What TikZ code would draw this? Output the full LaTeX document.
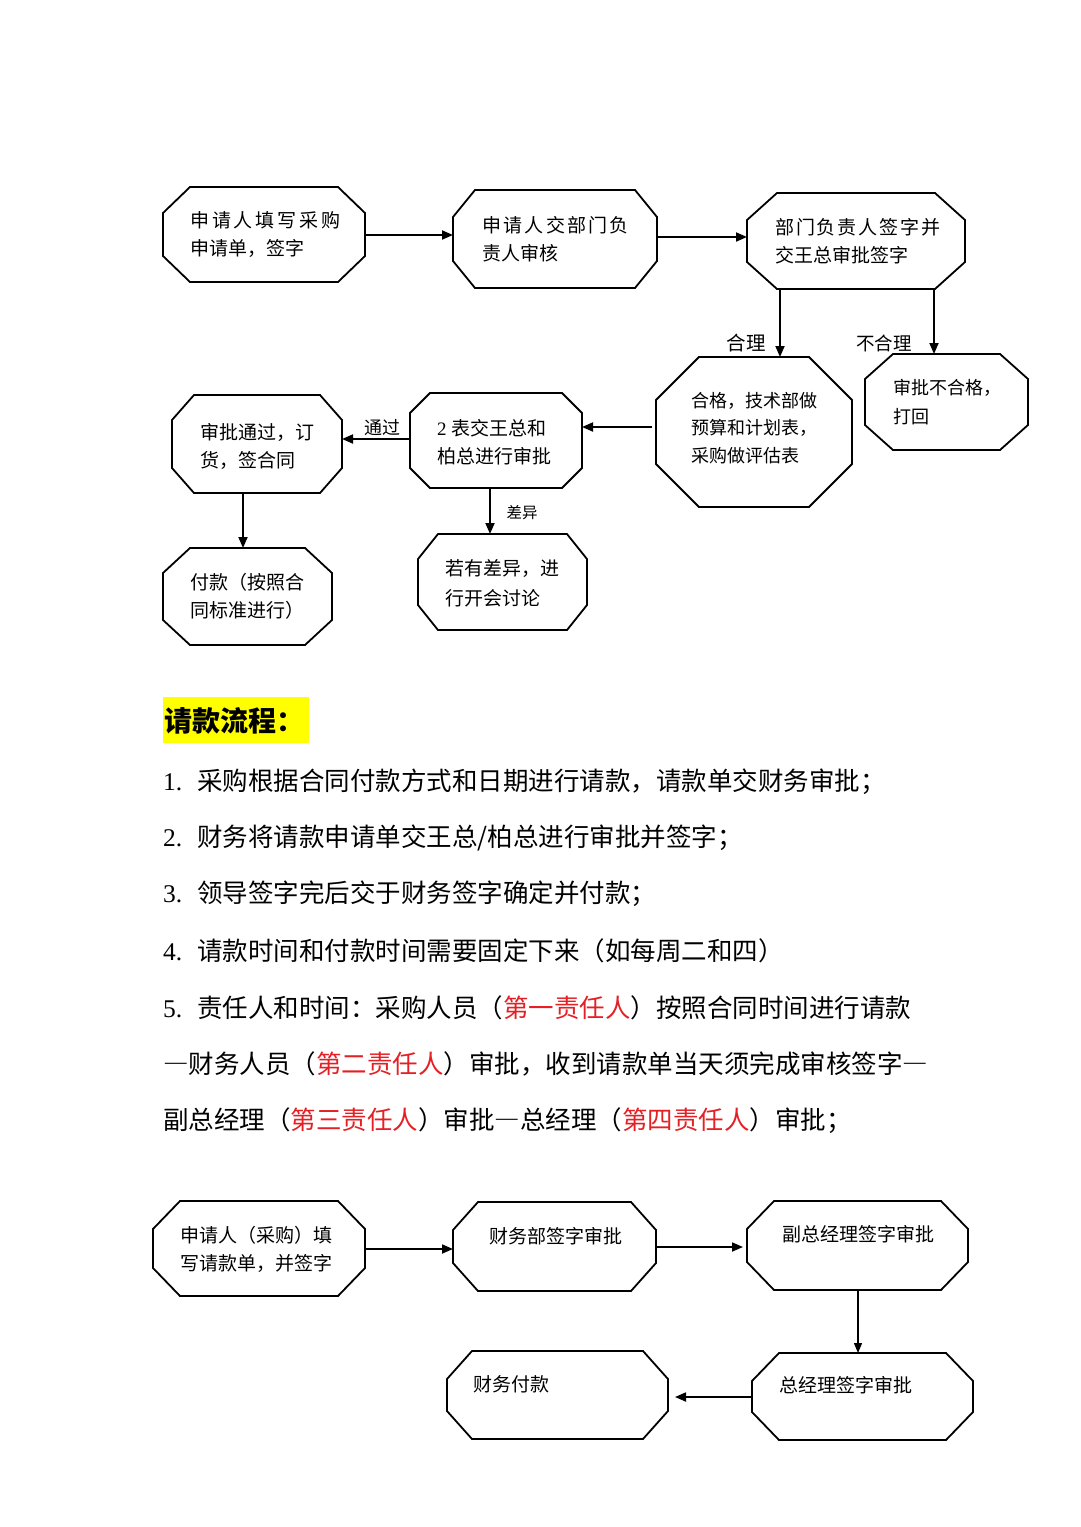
\documentclass[tikz,border=0pt]{standalone}
\usepackage{fontspec}
\setmainfont{Noto Sans CJK SC}
\newfontfamily\numf{Liberation Serif}
\usetikzlibrary{arrows.meta,fit}
\definecolor{redtxt}{RGB}{228,32,36}
\definecolor{hl}{RGB}{255,255,0}
\newcommand\octa[3]{%
  \draw[octline] ([xshift=#2]#1.north west) -- ([xshift=-#2]#1.north east) -- ([yshift=-#3]#1.north east) -- ([yshift=#3]#1.south east) -- ([xshift=-#2]#1.south east) -- ([xshift=#2]#1.south west) -- ([yshift=#3]#1.south west) -- ([yshift=-#3]#1.north west) -- cycle;}
\newcommand\ls[2]{{\addfontfeature{LetterSpace=#1}#2}}
\newcommand\fdash{{\addfontfeature{CharacterWidth=Full}—}}
\tikzset{
  octline/.style={line width=1.8pt, line join=miter},
  area/.style={inner sep=0pt, outer sep=0pt, draw=none},
  btxt/.style={inner sep=0pt, anchor=west, align=left, font=\fontsize{19}{28}\selectfont},
  arr/.style={line width=1.8pt, -{Triangle[length=11pt,width=9pt]}},
  thinarr/.style={line width=1.3pt, -{Triangle[length=10pt,width=8pt]}},
  lbl/.style={inner sep=0pt},
  body/.style={inner sep=0pt, anchor=west, font=\fontsize{25.5}{30}\selectfont},
}
\begin{document}
\begin{tikzpicture}[x=1pt,y=-1pt]
\useasboundingbox (0,0) rectangle (1080,1527);
% ---------- chart 1 ----------
\node[area, fit={(163,187) (365,282)}] (A) {};
\octa{A}{27}{26}
\node[btxt] (tA) at (190,235) {\ls{15}{申请人填写采购}\\申请单，签字};

\node[area, fit={(453,190) (657,288)}] (B) {};
\octa{B}{22}{27}
\node[btxt] (tB) at (482,239) {\ls{12}{申请人交部门负}\\责人审核};

\node[area, fit={(747,193) (965,289)}] (C) {};
\octa{C}{30}{27}
\node[btxt] (tC) at (775,241.5) {\ls{10}{部门负责人签字并}\\交王总审批签字};

\node[area, fit={(656,357) (852,507)}] (D) {};
\octa{D}{43}{43}
\node[btxt, font=\fontsize{18}{27.5}\selectfont] (tD) at (691,428) {合格，技术部做\\预算和计划表，\\采购做评估表};

\node[area, fit={(865,354) (1028,450)}] (E) {};
\octa{E}{28}{25}
\node[btxt, font=\fontsize{18}{29}\selectfont] (tE) at (893,402.5) {审批不合格，\\打回};

\node[area, fit={(410,393) (582,488)}] (F) {};
\octa{F}{20}{20}
\node[btxt] (tF) at (437,442.5) {{\numf 2}\hspace{5pt}表交王总和\\柏总进行审批};

\node[area, fit={(172,395) (342,493)}] (G) {};
\octa{G}{22}{25}
\node[btxt] (tG) at (200,446) {审批通过，订\\货，签合同};

\node[area, fit={(163,548) (332,645)}] (H) {};
\octa{H}{27}{25}
\node[btxt] (tH) at (190,596.5) {付款（按照合\\同标准进行）};

\node[area, fit={(418,534) (587,630)}] (I) {};
\octa{I}{20}{25}
\node[btxt, font=\fontsize{19}{30}\selectfont] (tI) at (445,583) {若有差异，进\\行开会讨论};

% connectors chart 1
\coordinate (yAB) at (0,235);
\coordinate (yBC) at (0,237);
\coordinate (xCD) at (780,0);
\coordinate (xCE) at (934,0);
\coordinate (yDF) at (0,427);
\coordinate (yFG) at (0,439);
\coordinate (xGH) at (243,0);
\coordinate (xFI) at (490,0);
\draw[arr] (A.east |- yAB) -- (B.west |- yAB);
\draw[arr] (B.east |- yBC) -- (C.west |- yBC);
\draw[arr] (C.south -| xCD) -- (D.north -| xCD);
\draw[arr] (C.south -| xCE) -- (E.north -| xCE);
\draw[arr] ([xshift=-4pt]D.west |- yDF) -- (F.east |- yDF);
\draw[arr] (F.west |- yFG) -- (G.east |- yFG);
\draw[arr] (G.south -| xGH) -- (H.north -| xGH);
\draw[arr] (F.south -| xFI) -- (I.north -| xFI);

\node[lbl, font=\fontsize{19.5}{20}\selectfont] (l1) at (746,343) {合理};
\node[lbl, font=\fontsize{18.5}{20}\selectfont] (l2) at (884,343) {不合理};
\node[lbl, font=\fontsize{18}{20}\selectfont] (l3) at (382,428) {通过};
\node[lbl, font=\fontsize{15.5}{20}\selectfont] (l4) at (522,513) {差异};

% ---------- text section ----------
\node[area, fill=hl, fit={(163,697) (309,743)}] (hd) {};
\node[inner sep=0pt, anchor=west, font=\fontsize{28}{30}\selectfont\bfseries] (hdt) at (164,721) {请款流程：};

\node[body] (t1) at (163,782) {\makebox[34pt][l]{\numf 1.}采购根据合同付款方式和日期进行请款，请款单交财务审批；};
\node[body] (t2) at (163,838) {\makebox[34pt][l]{\numf 2.}财务将请款申请单交王总/柏总进行审批并签字；};
\node[body] (t3) at (163,894) {\makebox[34pt][l]{\numf 3.}领导签字完后交于财务签字确定并付款；};
\node[body] (t4) at (163,951) {\makebox[34pt][l]{\numf 4.}请款时间和付款时间需要固定下来（如每周二和四）};
\node[body] (t5) at (163,1008) {\makebox[34pt][l]{\numf 5.}责任人和时间：采购人员（\textcolor{redtxt}{第一责任人}）按照合同时间进行请款};
\node[body] (t6) at (163,1064) {\fdash 财务人员（\textcolor{redtxt}{第二责任人}）审批，收到请款单当天须完成审核签字\fdash};
\node[body] (t7) at (163,1121) {副总经理（\textcolor{redtxt}{第三责任人}）审批\fdash 总经理（\textcolor{redtxt}{第四责任人}）审批；};

% ---------- chart 2 ----------
\node[area, fit={(153,1201) (365,1296)}] (P1) {};
\octa{P1}{27}{28}
\node[btxt] (tP1) at (180,1249) {申请人（采购）填\\写请款单，并签字};

\node[area, fit={(453,1202) (656,1291)}] (P2) {};
\octa{P2}{25}{28}
\node[btxt] (tP2) at (489,1236) {财务部签字审批};

\node[area, fit={(747,1201) (968,1290)}] (P3) {};
\octa{P3}{27}{28}
\node[btxt] (tP3) at (782,1234) {副总经理签字审批};

\node[area, fit={(752,1353) (973,1440)}] (P4) {};
\octa{P4}{27}{28}
\node[btxt] (tP4) at (779,1385) {总经理签字审批};

\node[area, fit={(447,1351) (668,1439)}] (P5) {};
\octa{P5}{25}{28}
\node[btxt] (tP5) at (473,1384) {财务付款};

\coordinate (yP12) at (0,1249);
\coordinate (yP23) at (0,1247);
\coordinate (xP34) at (858,0);
\coordinate (yP45) at (0,1397);
\draw[arr] (P1.east |- yP12) -- (P2.west |- yP12);
\draw[arr] (P2.east |- yP23) -- ([xshift=-4pt]P3.west |- yP23);
\draw[thinarr] (P3.south -| xP34) -- (P4.north -| xP34);
\draw[arr] (P4.west |- yP45) -- ([xshift=7pt]P5.east |- yP45);
\end{tikzpicture}
\end{document}
